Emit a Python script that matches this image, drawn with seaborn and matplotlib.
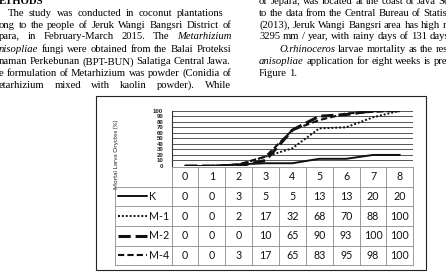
import matplotlib
matplotlib.use("Agg")
import matplotlib.pyplot as plt
import numpy as np
import pandas as pd
import seaborn as sns
from matplotlib.patches import Rectangle

# ---------------- data ----------------
weeks = [0, 1, 2, 3, 4, 5, 6, 7, 8]
series_names = ["K", "M-1", "M-2", "M-4"]
k_vals = [0, 0, 3, 5, 5, 13, 13, 20, 20]
m1_vals = [0, 0, 2, 17, 32, 68, 70, 88, 100]
m2_vals = [0, 0, 0, 10, 65, 90, 93, 100, 100]
m4_vals = [0, 0, 3, 17, 65, 83, 95, 98, 100]
y_ticks = list(range(0, 101, 10))
y_label = "Mortal Larva Oryctes (%)"

W, H = 446, 280
sns.set_theme(style="white")
plt.rcParams["font.family"] = ["Lato", "DejaVu Sans"]

fig = plt.figure(figsize=(W / 100, H / 100), dpi=100)
fig.patch.set_facecolor("white")


def fx(x):
    return x / W


def fy(y):
    return 1 - y / H


# ---------------- chart ----------------
PL, PR, PT, PB = 171.5, 413.3, 110.7, 166.0
ax = fig.add_axes([fx(PL), fy(PB), (PR - PL) / W, (PB - PT) / H])

df = pd.DataFrame({"week": weeks, "K": k_vals, "M-1": m1_vals,
                   "M-2": m2_vals, "M-4": m4_vals})
long = df.melt(id_vars="week", var_name="series", value_name="value")

dash_map = {"K": "", "M-1": (1, 1), "M-2": (4, 1.6), "M-4": (3, 1.5)}
size_map = {"K": 1.4, "M-1": 1.4, "M-2": 2.2, "M-4": 1.5}
sns.lineplot(data=long, x="week", y="value", style="series", size="series",
             style_order=series_names, size_order=series_names,
             dashes=dash_map, sizes=size_map, color="#111111",
             legend=False, ax=ax, zorder=3)

ax.set_xlim(-0.5, 8.5)
ax.set_ylim(0, 100)
ax.set_yticks(y_ticks)
ax.set_yticklabels([str(v) for v in y_ticks], fontsize=4.3, fontweight="bold",
                   family="Liberation Sans", color="#222222")
ax.set_xticks([])
ax.set_xlabel("")
ax.set_ylabel("")
ax.tick_params(axis="y", length=0, pad=6)
ax.grid(axis="y", color="#555555", lw=0.7)
for s in ["top", "right", "bottom"]:
    ax.spines[s].set_visible(False)
ax.spines["left"].set_color("#333333")
ax.spines["left"].set_linewidth(0.8)
ax.patch.set_alpha(0)

fig.text(fx(116), fy(154), y_label, rotation=90, fontsize=4.6,
         ha="center", va="center", color="#222222")

# ---------------- data table ----------------
TT, TB = 167.0, 265.3
tax = fig.add_axes([fx(PL), fy(TB), (PR - PL) / W, (TB - TT) / H])
tax.set_xlim(-0.5, 8.5)
tax.set_ylim(5, 0)
tax.axis("off")
colw = (PR - PL) / 9
xl = -0.5 - (PL - 115) / colw
gc = "#8a8a8a"
for i in range(10):
    tax.plot([i - 0.5, i - 0.5], [0, 5], color=gc, lw=0.6, clip_on=False)
tax.plot([xl, xl], [1, 5], color=gc, lw=0.6, clip_on=False)
tax.plot([-0.5, 8.5], [0, 0], color=gc, lw=0.6, clip_on=False)
for r in range(1, 6):
    tax.plot([xl, 8.5], [r, r], color=gc, lw=0.6, clip_on=False)

fs_tab = 7.7
for i, w in enumerate(weeks):
    tax.text(i, 0.5, str(w), ha="center", va="center", fontsize=fs_tab,
             color="#111111")
all_vals = [k_vals, m1_vals, m2_vals, m4_vals]
for r, vals in enumerate(all_vals):
    for i, v in enumerate(vals):
        tax.text(i, r + 1.5, str(v), ha="center", va="center",
                 fontsize=fs_tab, color="#111111")

s0 = -0.5 - (PL - 118) / colw
s1 = -0.5 - (PL - 147) / colw
tx = -0.5 - (PL - 149) / colw
for r, name in enumerate(series_names):
    yy = r + 1.5
    tax.plot([s0, s1], [yy, yy], color="#111111", lw=size_map[name],
             clip_on=False, **({"dashes": dash_map[name]} if dash_map[name] else {}))
    tax.text(tx, yy, name, ha="left", va="center", fontsize=fs_tab,
             color="#111111")

# frame of the figure
fig.patches.append(Rectangle((fx(96), fy(270)), (426 - 96) / W, (270 - 96) / H,
                             transform=fig.transFigure, fill=False,
                             lw=0.8, ec="#222222"))

# ---------------- surrounding page text ----------------
renderer = fig.canvas.get_renderer()
SERIF = "Liberation Serif"
FS = 7.7


def wwidth(t, style="normal", weight="normal"):
    tt = fig.text(0, 0, t, fontsize=FS, family=SERIF, style=style, weight=weight)
    w = tt.get_window_extent(renderer).width
    tt.remove()
    return w


SPACE = wwidth("a a") - wwidth("aa")


def place(segments, x0, yb, x1=None, weight="normal"):
    words = []
    for text, style in segments:
        for wd in text.split():
            words.append((wd, style))
    widths = [wwidth(w, s, weight) for w, s in words]
    if x1 is not None and len(words) > 1:
        gap = max((x1 - x0 - sum(widths)) / (len(words) - 1), SPACE * 0.8)
    else:
        gap = SPACE
    x = x0
    for (wd, st), wdt in zip(words, widths):
        fig.text(fx(x), fy(yb), wd, fontsize=FS, family=SERIF, style=st,
                 weight=weight, ha="left", va="baseline", color="#000000")
        x += wdt + gap


place([("ETHODS", "normal")], -1, 3.5, weight="bold")
place([("The study was conducted in coconut plantations", "normal")], 8, 16, 224)
place([("ong to the people of Jeruk Wangi Bangsri District of", "normal")], -1, 28, 231)
place([("para, in February-March 2015. The", "normal"), ("Metarhizium", "italic")], -1, 39.5, 231)
place([("nisopliae", "italic"), ("fungi were obtained from the Balai Proteksi", "normal")], -1, 52, 231)
place([("naman Perkebunan (BPT-BUN) Salatiga Central Jawa.", "normal")], -1, 64.5, 231)
place([("e formulation of Metarhizium was powder (Conidia of", "normal")], -1, 76, 231)
place([("etarhizium mixed with kaolin powder). While", "normal")], -1, 88, 231)

place([("of Jepara, was located at the coast of Java Sea.", "normal")], 259, 3.5)
place([("to the data from the Central Bureau of Statistics", "normal")], 259, 16)
place([("(2013), Jeruk Wangi Bangsri area has high rainfall", "normal")], 259, 28)
place([("3295 mm / year, with rainy days of 131 days per", "normal")], 259, 39.5)
place([("O.rhinoceros", "italic"), ("larvae mortality as the result of", "normal"),
       ("M.", "italic")], 279, 52)
place([("anisopliae", "italic"), ("application for eight weeks is presented in", "normal")], 259, 64.5)
place([("Figure 1.", "normal")], 259, 76)

fig.savefig("out.png", dpi=100)
